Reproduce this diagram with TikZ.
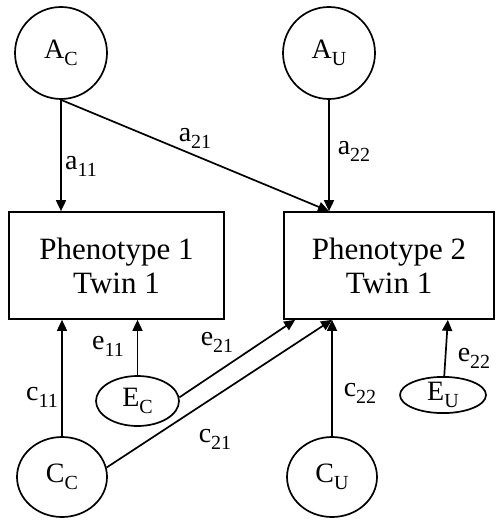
\documentclass[tikz,border=0pt]{standalone}
\usepackage{fontspec}
\setmainfont{Liberation Serif}
\usetikzlibrary{positioning,arrows.meta,shapes.geometric}
\newcommand{\subx}[1]{\raisebox{-0.55ex}{\fontsize{10}{10}\selectfont #1}}

\begin{document}
\begin{tikzpicture}[x=0.5pt,y=-0.5pt,>={Triangle[length=5.5pt,width=5pt]},
  font=\fontsize{14}{16}\selectfont,
  pheno/.style={rectangle,draw,line width=0.85pt,align=center,minimum height=53.5pt,inner sep=0pt,font=\fontsize{15.5}{17}\selectfont},
  lat/.style={circle,draw,line width=0.85pt,minimum size=46pt,inner sep=0pt},
  env/.style={ellipse,draw,line width=0.85pt,inner sep=0pt},
  ar/.style={->,line width=0.85pt},
  lbl/.style={inner sep=0pt}]
\useasboundingbox (0,0) rectangle (495,522);
\node[pheno,minimum width=107.5pt](p1) at (116.5,265.5){Phenotype 1\\Twin 1};
\node[pheno,minimum width=105pt](p2) at (389,265.5){Phenotype 2\\Twin 1};
\node[lat](AC) at (61,53){A\subx{C}};
\node[lat](AU) at (329,53){A\subx{U}};
\node[env,minimum width=45pt,minimum height=40pt](CC) at (62,477){C\subx{C}};
\node[env,minimum width=45pt,minimum height=40pt](CU) at (332,477){C\subx{U}};
\node[env,minimum width=41.5pt,minimum height=25pt](EC) at (137.5,401){E\subx{C}};
\node[env,minimum width=43pt,minimum height=18pt](EU) at (443,395){E\subx{U}};
% arrow ends on the phenotype boxes
\coordinate(t2) at (AU.south |- p2.north);
\coordinate(b2) at (CU.north |- p2.south);
\coordinate(e1) at ([xshift=6pt]p2.south west);
\coordinate(e2) at ([xshift=-23.5pt]p2.south east);
\draw[ar](AC.south)--(AC.south |- p1.north);
\draw[ar](AC.south)--(t2);
\draw[ar](AU)--(t2);
\draw[ar](CC)--(CC |- p1.south);
\draw[ar](EC)--(EC |- p1.south);
\draw[ar](EC.5)--(e1);
\draw[ar](CC.12)--(b2);
\draw[ar](CU)--(b2);
\draw[ar](EU)--(e2);
% path labels
\node[lbl](la11) at (81,166){a\subx{11}};
\node[lbl](la21) at (195,138){a\subx{21}};
\node[lbl](la22) at (354,151){a\subx{22}};
\node[lbl](lc11) at (42,397){c\subx{11}};
\node[lbl](le11) at (108,346){e\subx{11}};
\node[lbl](le21) at (217,342){e\subx{21}};
\node[lbl](lc21) at (215,439){c\subx{21}};
\node[lbl](lc22) at (360,393){c\subx{22}};
\node[lbl](le22) at (474,358){e\subx{22}};
\end{tikzpicture}
\end{document}
